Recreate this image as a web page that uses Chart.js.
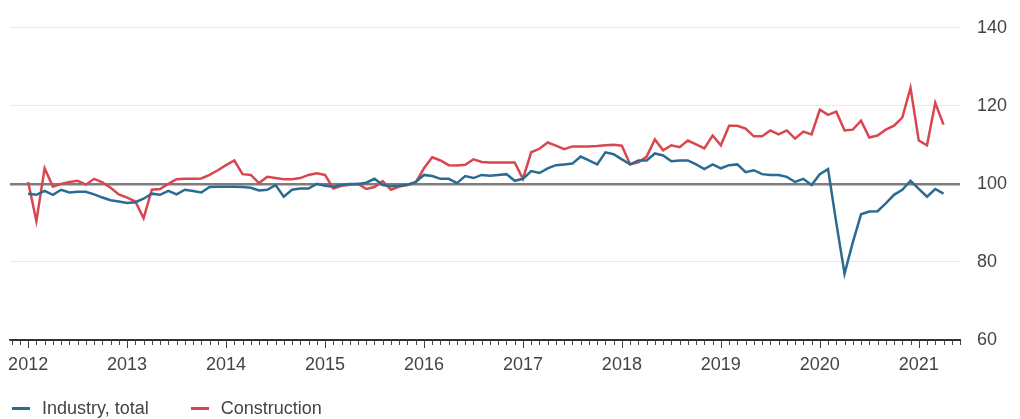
<!DOCTYPE html>
<html>
<head>
<meta charset="utf-8">
<title>Industry and construction</title>
<script src="https://cdn.jsdelivr.net/npm/chart.js@4/dist/chart.umd.min.js"></script>
<style>
    body { margin: 0; background: #fff; font-family: "Liberation Sans", Arial, sans-serif; }
    #wrap { position: relative; width: 1020px; height: 419px; }
    #legend { position: absolute; left: 12px; top: 398px; display: flex; font-size: 18px; color: #444; }
    .item { display: flex; align-items: center; margin-right: 42px; }
    .swatch { width: 18px; height: 2.5px; margin-right: 12px; }
</style>
</head>
<body>
<div id="wrap">
    <canvas id="chart" width="1020" height="419"></canvas>
    <div id="legend"></div>
</div>
<script>
// =============================
// DATA (monthly, Jan 2012 - Apr 2021)
// =============================
const yearLabels = ["2012", "2013", "2014", "2015", "2016", "2017", "2018", "2019", "2020", "2021"];
const yTicks = [60, 80, 100, 120, 140];

const industry = [
    97.5, 97.2, 98.2, 97.2, 98.5, 97.8, 98.0, 98.0, 97.3, 96.5, 95.8, 95.5,       // 2012
    95.1, 95.3, 96.2, 97.5, 97.2, 98.2, 97.3, 98.5, 98.2, 97.8, 99.2, 99.3,       // 2013
    99.3, 99.3, 99.2, 99.0, 98.3, 98.5, 99.7, 96.7, 98.5, 98.8, 98.8, 100.0,      // 2014
    99.5, 99.3, 99.7, 100.0, 100.0, 100.3, 101.3, 99.7, 99.4, 99.5, 99.8, 100.5,  // 2015
    102.3, 102.0, 101.3, 101.3, 100.2, 102.0, 101.5, 102.3, 102.1, 102.3, 102.5, 100.8, // 2016
    101.3, 103.3, 102.8, 104.0, 104.8, 105.0, 105.2, 107.0, 106.0, 105.0, 108.1, 107.6, // 2017
    106.3, 105.0, 106.0, 106.0, 107.8, 107.3, 105.8, 106.0, 106.0, 105.0, 103.8, 105.0, // 2018
    104.0, 104.8, 105.0, 103.0, 103.5, 102.5, 102.3, 102.3, 101.8, 100.5, 101.3, 99.7,  // 2019
    102.5, 103.8, 90.0, 77.0, 85.0, 92.2, 92.9, 93.0, 95.0, 97.2, 98.5, 100.8,          // 2020
    98.7, 96.7, 98.7, 97.5                                                              // 2021
];

const construction = [
    100.5, 90.5, 104.0, 99.3, 100.0, 100.5, 100.8, 99.8, 101.3, 100.4, 99.0, 97.3,      // 2012
    96.5, 95.5, 91.2, 98.5, 98.7, 100.0, 101.2, 101.3, 101.3, 101.4, 102.3, 103.5,      // 2013
    104.8, 106.0, 102.5, 102.3, 100.2, 101.8, 101.5, 101.2, 101.2, 101.5, 102.3, 102.7, // 2014
    102.3, 98.8, 99.5, 99.8, 100.0, 98.7, 99.2, 100.7, 98.5, 99.3, 99.7, 100.4,         // 2015
    104.0, 106.8, 106.0, 104.8, 104.7, 104.9, 106.3, 105.6, 105.5, 105.5, 105.5, 105.5, // 2016
    101.3, 108.1, 109.0, 110.6, 109.8, 108.9, 109.6, 109.6, 109.6, 109.7, 109.9, 110.0, // 2017
    109.8, 105.0, 105.5, 107.0, 111.4, 108.6, 109.9, 109.4, 111.1, 110.1, 109.1, 112.4, // 2018
    109.9, 114.9, 114.9, 114.2, 112.2, 112.2, 113.7, 112.7, 113.7, 111.6, 113.4, 112.7, // 2019
    119.0, 117.7, 118.5, 113.7, 113.9, 116.2, 111.9, 112.4, 113.9, 114.9, 117.0, 124.6, // 2020
    111.1, 109.9, 120.8, 115.2                                                          // 2021
];

const seriesNames = ["Industry, total", "Construction"];
const seriesColors = ["#2b6a91", "#da4650"];

// =============================
// HELPERS
// =============================
const toPoints = arr => arr.map((v, i) => ({ x: i, y: v }));

// short ticks for months, longer ones at January
const monthTicks = {
    id: "monthTicks",
    afterDraw(chart) {
        const xs = chart.scales.x;
        const ctx = chart.ctx;
        ctx.save();
        ctx.strokeStyle = "#444";
        ctx.lineWidth = 1;
        xs.ticks.forEach(t => {
            const px = Math.round(xs.getPixelForValue(t.value)) + 0.5;
            const len = t.value % 12 === 0 ? 8 : 5;
            ctx.beginPath();
            ctx.moveTo(px, xs.top);
            ctx.lineTo(px, xs.top + len);
            ctx.stroke();
        });
        ctx.restore();
    }
};

// =============================
// CHART
// =============================
const ctx = document.getElementById("chart").getContext("2d");

new Chart(ctx, {
    type: "line",
    data: {
        datasets: [
            {
                label: seriesNames[0],
                data: toPoints(industry),
                borderColor: seriesColors[0],
                borderWidth: 2.5,
                pointRadius: 0,
                tension: 0
            },
            {
                label: seriesNames[1],
                data: toPoints(construction),
                borderColor: seriesColors[1],
                borderWidth: 2.5,
                pointRadius: 0,
                tension: 0
            }
        ]
    },
    options: {
        responsive: false,
        animation: false,
        devicePixelRatio: 1,
        layout: { padding: { left: 10, top: 24, right: 0, bottom: 39 } },
        plugins: {
            legend: { display: false },
            tooltip: { enabled: false }
        },
        scales: {
            x: {
                type: "linear",
                min: -2.2,
                max: 113,
                afterFit: s => { s.height = 40; },
                border: { color: "#333", width: 1.5 },
                grid: { drawOnChartArea: false, drawTicks: true, tickLength: 8, tickColor: "rgba(0,0,0,0)" },
                ticks: {
                    stepSize: 1,
                    includeBounds: false,
                    autoSkip: false,
                    maxRotation: 0,
                    padding: 6,
                    color: "#444",
                    font: { family: "'Liberation Sans', Arial, sans-serif", size: 18 },
                    callback: v => (v % 12 === 0 ? yearLabels[v / 12] : "")
                }
            },
            y: {
                position: "right",
                min: yTicks[0],
                max: yTicks[yTicks.length - 1],
                afterFit: s => { s.width = 60; },
                border: { display: false },
                grid: {
                    drawTicks: false,
                    color: c => (c.tick.value === 100 ? "#7d7d7d" : c.tick.value === 60 ? "#333" : "#e8e8e8"),
                    lineWidth: c => (c.tick.value === 100 ? 2.5 : 1)
                },
                ticks: {
                    stepSize: 20,
                    padding: 17,
                    color: "#444",
                    font: { family: "'Liberation Sans', Arial, sans-serif", size: 18 }
                }
            }
        }
    },
    plugins: [monthTicks]
});

// =============================
// LEGEND
// =============================
const legend = document.getElementById("legend");
seriesNames.forEach((name, i) => {
    const item = document.createElement("div");
    item.className = "item";
    item.innerHTML = `<span class="swatch" style="background:${seriesColors[i]}"></span><span>${name}</span>`;
    legend.appendChild(item);
});
</script>
</body>
</html>
